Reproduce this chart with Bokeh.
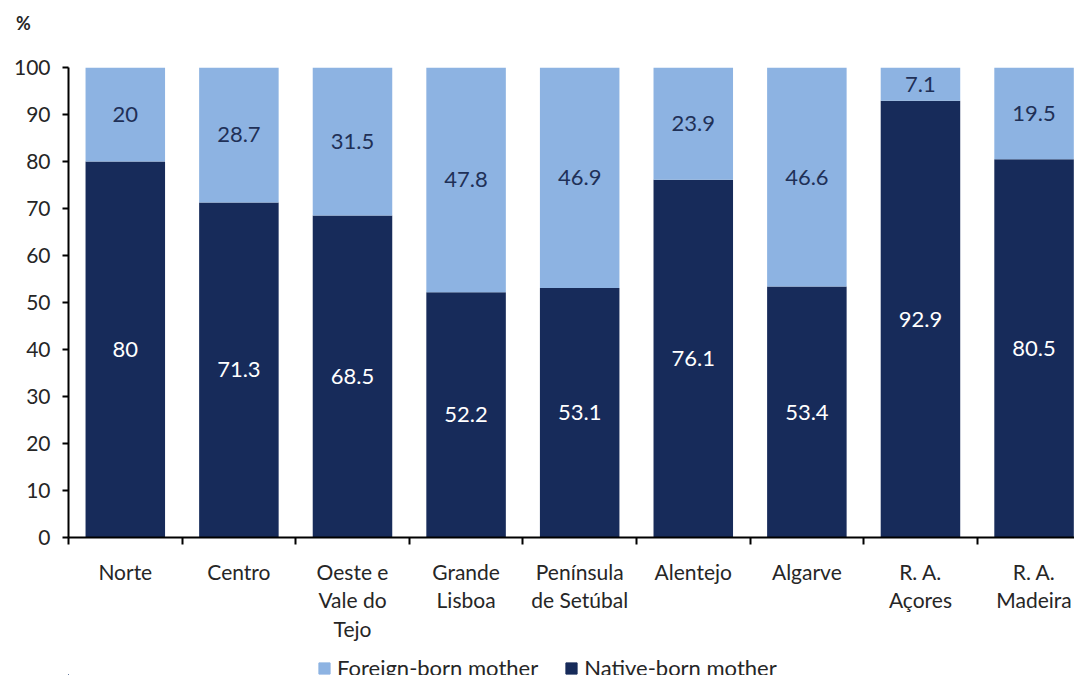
from bokeh.plotting import figure
from bokeh.layouts import column
from bokeh.models import (ColumnDataSource, Range1d, FixedTicker, Legend, LegendItem, Label)
from bokeh.core.properties import value
from bokeh.embed import file_html
from bokeh.resources import INLINE

regions = ["Norte", "Centro", "Oeste e\nVale do\nTejo", "Grande\nLisboa", "Península\nde Setúbal",
           "Alentejo", "Algarve", "R. A.\nAçores", "R. A.\nMadeira"]
foreign = [20, 28.7, 31.5, 47.8, 46.9, 23.9, 46.6, 7.1, 19.5]
native = [80, 71.3, 68.5, 52.2, 53.1, 76.1, 53.4, 92.9, 80.5]
y_ticks = list(range(0, 101, 10))
series_names = ["Foreign-born mother", "Native-born mother"]
unit_label = "%"

LIGHT = "#8DB3E2"
DARK = "#172B5A"
FONT = "Lato"
TXT = "#262626"

xs = [i + 0.5 for i in range(len(regions))]
src = ColumnDataSource(dict(
    x=xs, native=native, foreign=foreign,
    native_y=[n / 2 for n in native],
    foreign_y=[n + f / 2 for n, f in zip(native, foreign)],
    native_t=[f"{v:g}" for v in native],
    foreign_t=[f"{v:g}" for v in foreign],
))

def strip(h):
    f = figure(width=1074, height=h, output_backend="svg", toolbar_location=None,
               x_range=Range1d(0, 1074), y_range=Range1d(0, h), x_axis_type=None, y_axis_type=None,
               min_border_left=0, min_border_right=0, min_border_top=0, min_border_bottom=0)
    f.outline_line_color = None
    f.grid.grid_line_color = None
    return f

# top strip with the unit label (not frame-aligned, so its frame spans the full width)
top = strip(40)
if "frame_align" in top.properties():
    top.frame_align = False
top.add_layout(Label(x=23, y=18, text=unit_label, text_font=FONT, text_font_size="18px",
                     text_font_style="bold", text_color=TXT,
                     text_align="center", text_baseline="middle"))

p = figure(width=1074, height=607, output_backend="svg", toolbar_location=None,
           x_range=Range1d(0, 8.856), y_range=Range1d(0, 100),
           min_border_left=68, min_border_top=27, min_border_bottom=110, min_border_right=0)
p.outline_line_color = None
p.grid.grid_line_color = None

rs = p.vbar_stack(["native", "foreign"], x="x", width=0.70, source=src,
                  color=[DARK, LIGHT], line_color=None)

p.text(x="x", y="native_y", text="native_t", source=src, text_align="center",
       text_baseline="middle", text_color="white", text_font=value(FONT), text_font_size="22px")
p.text(x="x", y="foreign_y", text="foreign_t", source=src, text_align="center",
       text_baseline="middle", text_color="#1F3057", text_font=value(FONT), text_font_size="22px")

# x axis
p.xaxis.ticker = FixedTicker(ticks=xs, minor_ticks=list(range(len(regions) + 1)))
p.xaxis.major_label_overrides = {x: r for x, r in zip(xs, regions)}
p.xaxis.major_tick_line_color = None
p.xaxis.minor_tick_in = 0
p.xaxis.minor_tick_out = 7
p.xaxis.minor_tick_line_color = "black"
p.xaxis.minor_tick_line_width = 2
p.xaxis.axis_line_color = "black"
p.xaxis.axis_line_width = 2
p.xaxis.major_label_text_font = FONT
p.xaxis.major_label_text_font_size = "21px"
p.xaxis.major_label_text_color = TXT
p.xaxis.major_label_text_line_height = 1.14
p.xaxis.major_label_standoff = 14

# y axis
p.yaxis.ticker = FixedTicker(ticks=y_ticks, minor_ticks=[])
p.yaxis.major_tick_in = 0
p.yaxis.major_tick_out = 6
p.yaxis.major_tick_line_color = "black"
p.yaxis.major_tick_line_width = 2
p.yaxis.axis_line_color = "black"
p.yaxis.axis_line_width = 2
p.yaxis.major_label_text_font = FONT
p.yaxis.major_label_text_font_size = "21px"
p.yaxis.major_label_text_color = TXT
p.yaxis.major_label_standoff = 12

# legend in its own strip (swatch glyphs sit outside the visible range)
lg = strip(28)
r_f = lg.vbar(x=[-100], top=[1], width=1, color=LIGHT)
r_n = lg.vbar(x=[-100], top=[1], width=1, color=DARK)
legend = Legend(items=[LegendItem(label=series_names[0], renderers=[r_f]),
                       LegendItem(label=series_names[1], renderers=[r_n])],
                orientation="horizontal", location=(249, -6),
                label_text_font=FONT, label_text_font_size="22px", label_text_color=TXT,
                glyph_width=14, glyph_height=14, spacing=26, label_standoff=6,
                border_line_color=None, background_fill_alpha=0, padding=2, margin=0)
lg.add_layout(legend)

open("out.html", "w").write(file_html(column(top, p, lg, spacing=0), INLINE))
